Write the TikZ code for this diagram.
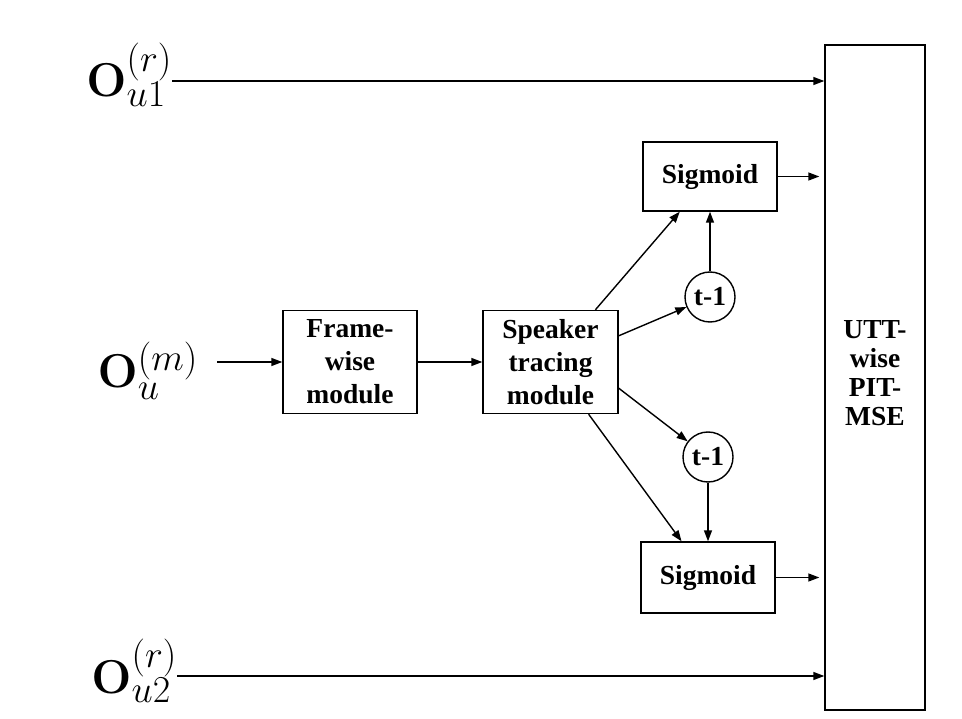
\RequirePackage{fix-cm}
\documentclass[tikz,border=0pt]{standalone}
\usepackage[no-math]{fontspec}
\setmainfont{Liberation Serif}
\DeclareMathSizes{47.5}{47.5}{38}{30}
\usetikzlibrary{arrows.meta}
\begin{document}
\begin{tikzpicture}[x=1pt,y=-1pt,
  every node/.style={font=\bfseries\fontsize{27.5}{33}\selectfont},
  blk/.style={draw,line width=1.4pt,rectangle,inner sep=0pt,align=center},
  delay/.style={draw,line width=1.4pt,circle,inner sep=0pt,minimum size=50pt},
  arr/.style={line width=1.4pt,-{Triangle[length=11pt,width=8pt]}},
  mlabel/.style={inner sep=0pt,font=\fontsize{47.5}{57}\selectfont}]
\useasboundingbox (0,0) rectangle (962,719);
% labels
\node[mlabel,anchor=base east] (lu1) at (172,97) {$\mathbf{O}_{u1}^{(r)}$};
\node[mlabel,anchor=base east] (lum) at (198,388) {$\mathbf{O}_{u}^{(m)}$};
\node[mlabel,anchor=base east] (lu2) at (177,693) {$\mathbf{O}_{u2}^{(r)}$};
% blocks
\node[blk,minimum width=134pt,minimum height=103pt] (frame) at (350,362) {Frame-\\wise\\module};
\node[blk,minimum width=135pt,minimum height=103pt] (spk) at (550.5,362) {Speaker\\tracing\\module};
\node[blk,minimum width=134pt,minimum height=69pt] (sig1) at (710,176.5) {Sigmoid};
\node[blk,minimum width=134pt,minimum height=71pt] (sig2) at (708,577.5) {Sigmoid};
\node[delay] (t1) at (710,297) {t-1};
\node[delay] (t2) at (708,457) {t-1};
\node[blk,minimum width=100pt,minimum height=665pt] (big) at (875,377.5) {};
\node[align=center,font=\bfseries\fontsize{27.5}{29}\selectfont] (bigtxt) at (875,373) {UTT-\\wise\\PIT-\\MSE};
% connectors
\draw[arr] ([yshift=16pt]lu1.base east) -- ([yshift=16pt]lu1.base east -| big.west);
\draw[arr] ([yshift=17pt]lu2.base east) -- ([yshift=17pt]lu2.base east -| big.west);
\draw[arr] ([xshift=19pt,yshift=26pt]lum.base east) -- (frame.west);
\draw[arr] (frame.east) -- (spk.west);
\draw[arr] (spk) -- (sig1);
\draw[arr] (spk) -- (sig2);
\draw[arr] (spk.21) -- (t1);
\draw[arr] (spk.-21) -- (t2);
\draw[arr] (t1) -- (sig1);
\draw[arr] (t2) -- (sig2);
\draw[arr,shorten >=5pt] (sig1.east) -- (sig1.east -| big.west);
\draw[arr,shorten >=5pt] (sig2.east) -- (sig2.east -| big.west);
\end{tikzpicture}
\end{document}
